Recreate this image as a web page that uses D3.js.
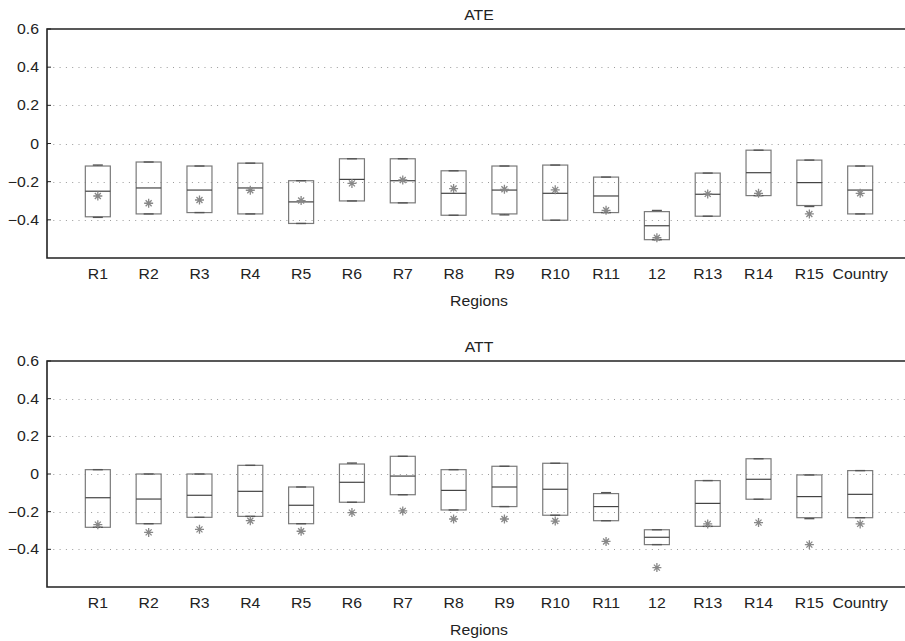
<!DOCTYPE html>
<html>
<head>
<meta charset="utf-8">
<script src="https://cdn.jsdelivr.net/npm/d3@7"></script>
<style>
  body { margin: 0; background: #fff; }
  text { font-family: "Liberation Sans", Arial, sans-serif; fill: #222; font-size: 14px; }
</style>
</head>
<body>
<svg id="chart" width="905" height="641"></svg>
<script>
var regions = ["R1", "R2", "R3", "R4", "R5", "R6", "R7", "R8", "R9", "R10", "R11", "12", "R13", "R14", "R15", "Country"];
var yTicks = [0.6, 0.4, 0.2, 0, -0.2, -0.4];

// ATE panel
var ateHi  = [-0.113, -0.097, -0.118, -0.103, -0.195, -0.080, -0.080, -0.143, -0.118, -0.113, -0.176, -0.351, -0.155, -0.035, -0.087, -0.118];
var ateQ3  = [-0.118, -0.097, -0.118, -0.103, -0.195, -0.080, -0.080, -0.143, -0.118, -0.113, -0.176, -0.357, -0.155, -0.035, -0.087, -0.118];
var ateMed = [-0.250, -0.233, -0.244, -0.233, -0.306, -0.188, -0.195, -0.261, -0.244, -0.261, -0.275, -0.431, -0.266, -0.153, -0.205, -0.244];
var ateQ1  = [-0.384, -0.369, -0.362, -0.369, -0.419, -0.301, -0.311, -0.376, -0.369, -0.402, -0.362, -0.504, -0.381, -0.273, -0.325, -0.369];
var ateLo  = [-0.387, -0.369, -0.362, -0.369, -0.419, -0.301, -0.311, -0.376, -0.374, -0.402, -0.362, -0.504, -0.381, -0.273, -0.330, -0.369];
var ateStar = [-0.275, -0.313, -0.296, -0.245, -0.299, -0.209, -0.191, -0.236, -0.240, -0.243, -0.350, -0.494, -0.264, -0.261, -0.369, -0.261];

// ATT panel
var attHi  = [0.023, 0.000, 0.000, 0.046, -0.069, 0.058, 0.094, 0.023, 0.041, 0.057, -0.099, -0.296, -0.035, 0.081, -0.005, 0.018];
var attQ3  = [0.023, 0.000, 0.000, 0.046, -0.069, 0.053, 0.094, 0.023, 0.041, 0.057, -0.104, -0.296, -0.035, 0.081, -0.005, 0.018];
var attMed = [-0.126, -0.133, -0.113, -0.092, -0.166, -0.044, -0.011, -0.087, -0.069, -0.081, -0.173, -0.336, -0.156, -0.028, -0.120, -0.108];
var attQ1  = [-0.283, -0.264, -0.230, -0.225, -0.264, -0.150, -0.110, -0.191, -0.173, -0.219, -0.248, -0.375, -0.278, -0.134, -0.232, -0.232];
var attLo  = [-0.283, -0.264, -0.230, -0.225, -0.264, -0.150, -0.110, -0.191, -0.173, -0.219, -0.248, -0.375, -0.278, -0.134, -0.237, -0.232];
var attStar = [-0.269, -0.310, -0.294, -0.248, -0.304, -0.205, -0.196, -0.239, -0.239, -0.250, -0.358, -0.497, -0.265, -0.258, -0.375, -0.265];

var svg = d3.select("#chart");

var x = d3.scaleLinear().domain([0, regions.length + 1]).range([47, 911]);
var boxW = 25, capW = 10;
var stretch = 1.13; // the source font is a bit wider than Liberation Sans

function fmt(v) {
  if (v == 0) return "0";
  return (v < 0 ? "\u2212" : "") + Math.abs(v).toFixed(1);
}

// text placed with a horizontal stretch around its anchor
function label(g, px, py, anchor, txt) {
  return g.append("text")
    .attr("transform", "translate(" + px + "," + py + ") scale(" + stretch + ",1)")
    .attr("text-anchor", anchor).text(txt);
}

function drawPanel(opts) {
  var y = d3.scaleLinear().domain([-0.6, 0.6]).range([opts.bottom, opts.top]);
  var g = svg.append("g");

  // dotted grid
  g.selectAll("line.grid").data(yTicks.filter(function (t) { return t < 0.6; }))
    .enter().append("line")
    .attr("x1", x(0)).attr("x2", x(regions.length + 1))
    .attr("y1", function (d) { return Math.round(y(d)) + 0.5; })
    .attr("y2", function (d) { return Math.round(y(d)) + 0.5; })
    .attr("stroke", "#9a9a9a").attr("stroke-width", 1)
    .attr("stroke-dasharray", "1,5.3");

  // frame: left, top, bottom
  g.append("path")
    .attr("d", "M" + x(regions.length + 1) + "," + opts.top + "H" + x(0) + "V" + opts.bottom + "H" + x(regions.length + 1))
    .attr("fill", "none").attr("stroke", "#222").attr("stroke-width", 1.6);

  // y ticks and labels
  yTicks.forEach(function (t) {
    label(g, 39, y(t) + 5, "end", fmt(t));
  });
  g.selectAll("line.ytick").data(yTicks).enter().append("line")
    .attr("x1", x(0)).attr("x2", x(0) + 4)
    .attr("y1", function (d) { return y(d); }).attr("y2", function (d) { return y(d); })
    .attr("stroke", "#222");

  // x labels
  regions.forEach(function (r, i) {
    label(g, x(i + 1), opts.bottom + 21, "middle", r);
  });

  var mid = (x(0) + x(regions.length + 1)) / 2;
  label(g, mid, opts.top - 9, "middle", opts.title);
  label(g, mid, opts.bottom + 48, "middle", "Regions");

  var boxes = g.selectAll("g.box").data(regions).enter().append("g")
    .attr("transform", function (d, i) { return "translate(" + x(i + 1) + ",0)"; });

  // whiskers
  boxes.append("line").attr("x1", 0).attr("x2", 0)
    .attr("y1", function (d, i) { return y(opts.hi[i]); })
    .attr("y2", function (d, i) { return y(opts.q3[i]); })
    .attr("stroke", "#777").attr("stroke-dasharray", "3,2");
  boxes.append("line").attr("x1", 0).attr("x2", 0)
    .attr("y1", function (d, i) { return y(opts.q1[i]); })
    .attr("y2", function (d, i) { return y(opts.lo[i]); })
    .attr("stroke", "#777").attr("stroke-dasharray", "3,2");

  boxes.append("rect")
    .attr("x", -boxW / 2)
    .attr("y", function (d, i) { return y(opts.q3[i]); })
    .attr("width", boxW)
    .attr("height", function (d, i) { return y(opts.q1[i]) - y(opts.q3[i]); })
    .attr("fill", "none").attr("stroke", "#7a7a7a").attr("stroke-width", 1.2);

  // caps
  boxes.append("line").attr("x1", -capW / 2).attr("x2", capW / 2)
    .attr("y1", function (d, i) { return y(opts.hi[i]); })
    .attr("y2", function (d, i) { return y(opts.hi[i]); })
    .attr("stroke", "#555").attr("stroke-width", 1.4);
  boxes.append("line").attr("x1", -capW / 2).attr("x2", capW / 2)
    .attr("y1", function (d, i) { return y(opts.lo[i]); })
    .attr("y2", function (d, i) { return y(opts.lo[i]); })
    .attr("stroke", "#555").attr("stroke-width", 1.4);

  // median
  boxes.append("line").attr("x1", -boxW / 2).attr("x2", boxW / 2)
    .attr("y1", function (d, i) { return y(opts.med[i]); })
    .attr("y2", function (d, i) { return y(opts.med[i]); })
    .attr("stroke", "#444").attr("stroke-width", 1.2);

  // star marker
  boxes.append("path")
    .attr("transform", function (d, i) { return "translate(0," + y(opts.star[i]) + ")"; })
    .attr("d", "M-4.5,0H4.5M0,-4.5V4.5M-3,-3L3,3M-3,3L3,-3")
    .attr("stroke", "#888").attr("stroke-width", 1.3);
}

drawPanel({ title: "ATE", top: 29, bottom: 258, hi: ateHi, q3: ateQ3, med: ateMed, q1: ateQ1, lo: ateLo, star: ateStar });
drawPanel({ title: "ATT", top: 361, bottom: 587, hi: attHi, q3: attQ3, med: attMed, q1: attQ1, lo: attLo, star: attStar });
</script>
</body>
</html>
